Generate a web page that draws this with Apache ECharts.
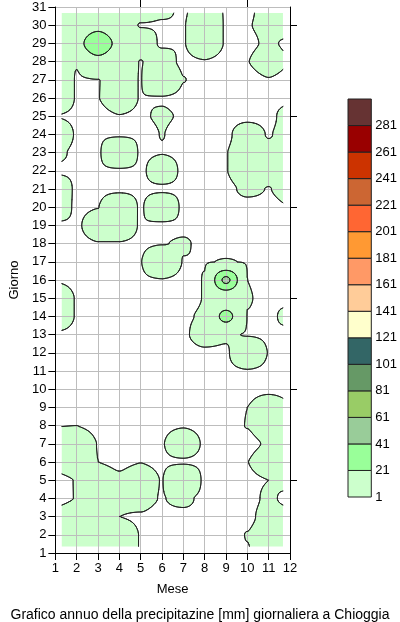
<!DOCTYPE html>
<html><head><meta charset="utf-8">
<script src="https://cdn.jsdelivr.net/npm/echarts@6/dist/echarts.min.js"></script>
<style>html,body{margin:0;padding:0;background:#fff}#c{width:400px;height:622px}</style>
</head><body><div id="c"></div>
<script>
// x axis: months, y axis: days
const months = [1,2,3,4,5,6,7,8,9,10,11,12];
const days = Array.from({length:31},(_,i)=>i+1);
// estimated daily precipitation [mm] per month, index = day-1
const pm01 = [3,3,2,0.3,0.4,2,3,0.98,0,0,0,0,0.5,6,6,0.7,0,0,0.3,6,9,0,2.4,8,0.9,10,10,4,5,5,5];
const pm02 = [3,3,3,1.05,1.05,3,3,1.0,0,0,0,0,0,0.8,0.8,0,0,0,0.5,0.2,0,0,0,0.55,0,0.7,0.7,1.2,14,5,5];
const pm03 = [3,3,3,3,3,1.0,0.97,0.6,0,0,0,0,0,0,0,0,0,0.9,4,0.95,0,0,0,0,0.6,0.98,0.97,14,40,14,5];
const pm04 = [2,2,1.0,1.5,1.4,0.6,0.3,0,0,0,0,0,0,0,0,0,0,0.9,4,8.8,0,0,20,0,0.97,2.2,2.2,3,14,3,5];
const pm05 = [0.97,0.97,0.85,1.8,3,0.98,0.3,0,0,0,0,0,0,0,0,0.6,0.95,0.5,0.8,0.5,0,0,0,0,0.78,0.95,0.95,0.95,3,0.9,3];
const pm06 = [0,0,0.3,0.9,0.915,0.5,0.85,0.3,0,0,0,0,0,0,0,0.9,8,0.9,0,9.6,0,6,0.85,1.05,1.27,0.8,8,2.5,0.7,0.85,1.5];
const pm07 = [0,0,0,2,13,0.5,5,0.8,0,0,0,0.3,0.75,0.8,0.2,0.2,0.9,1.3,0.3,0,0,0,0,0,0.78,0.3,1.05,0.5,0.9,0.9,0.7];
const pm08 = [0,0,0,0,0,0,0.5,0,0,0,0,0.7,2,1.2,1.05,1.05,0.95,0.3,0,0,0,0,0,0,0,0,0,0.9,4,4,3];
const pm09 = [0,0,0,0,0,0,0,0,0,0,0.5,0.7,1.3,27,4,45,1.05,0.5,0,0,0.5,0.95,0.95,0.5,0,0,0,0.3,0.85,0.85,0.85];
const pm10 = [0.9,1.05,0.5,0.3,0.5,0.98,0.35,1.05,1.0,0.3,0.9,5,0.9,0.95,1.1,1.0,0.95,0.3,0,0.3,1.5,3.5,3.5,3,0.3,0,0,0.95,0.5,0.9,0.6];
const pm11 = [3,3,2,1.4,1.0,3,1.3,3,3,0.5,0.6,0.95,0.7,0.3,0.5,0.3,0,0,0,0.5,0.95,2,2,0.85,0.3,0,0.9,3,1.4,1.65,2];
const pm12 = [0.3,2,2,0.3,2,2,2,2,1.2,0.3,0,0,0,2.2,0,0,0,0,0,1.0,2,2,2,2.5,2.5,0.3,0,1.0,0.5,3,3];
const precip = [pm01,pm02,pm03,pm04,pm05,pm06,pm07,pm08,pm09,pm10,pm11,pm12];
// contour levels and colours
const levels = [1,21,41,61,81,101,121,141,161,181,201,221,241,261,281];
const levelColors = ['#ccffcc','#99ff99','#99cc99','#99cc66','#669966','#336666','#ffffcc','#ffcc99','#ff9966','#ff9933','#ff6633','#cc6633','#cc3300','#990000','#663333'];
const rightTicks = [5,10,15,20,25,30];
const topTicks = [5,10];
const FONT = 'Liberation Sans, Arial, sans-serif';

const ContourPath = echarts.graphic.extendShape({
  shape: {polys: [], segs: []},
  buildPath: function (ctx, shape) {
    const polys = shape.polys || [];
    for (let k = 0; k < polys.length; k++) {
      const p = polys[k];
      ctx.moveTo(p[0], p[1]);
      for (let i = 2; i < p.length; i += 2) ctx.lineTo(p[i], p[i + 1]);
      ctx.closePath();
    }
    const s = shape.segs || [];
    for (let i = 0; i < s.length; i += 4) { ctx.moveTo(s[i], s[i + 1]); ctx.lineTo(s[i + 2], s[i + 3]); }
  }
});
echarts.graphic.registerShape('contourPath', ContourPath);

function wgt(t){ return 1 - 3*t*t + 2*t*t*t; }
function field(x, y){
  let i = Math.floor(x); if (i >= 12) i = 11; if (i < 1) i = 1;
  let j = Math.floor(y); if (j >= 31) j = 30; if (j < 1) j = 1;
  const fx = x - i, fy = y - j;
  const a = precip[i-1][j-1], b = precip[i][j-1], c = precip[i-1][j], d = precip[i][j];
  const wx = wgt(fx), wy = wgt(fy);
  return wy*(wx*a + (1-wx)*b) + (1-wy)*(wx*c + (1-wx)*d);
}

let cache = null;
function contours(api){
  if (cache) return cache;
  const X0 = 1.3, X1 = 11.67, Y0 = 1.36, Y1 = 30.67;
  const nx = Math.ceil((X1-X0)/0.04), ny = Math.ceil((Y1-Y0)/0.05);
  const px = [], py = [], V = [];
  for (let i = 0; i <= nx; i++) px.push(api.coord([X0 + (X1-X0)*i/nx, 1])[0]);
  for (let j = 0; j <= ny; j++) py.push(api.coord([1, Y0 + (Y1-Y0)*j/ny])[1]);
  let vmax = 0;
  for (let j = 0; j <= ny; j++) { const row = []; const y = Y0 + (Y1-Y0)*j/ny;
    for (let i = 0; i <= nx; i++) { const v = field(X0 + (X1-X0)*i/nx, y); row.push(v); if (v > vmax) vmax = v; }
    V.push(row); }
  const fills = [], segs = [];
  levels.forEach((L, k) => {
    if (vmax < L) return;
    const polys = [];
    for (let j = 0; j < ny; j++) {
      let runStart = -1;
      for (let i = 0; i < nx; i++) {
        const cx = [px[i], px[i+1], px[i+1], px[i]], cy = [py[j], py[j], py[j+1], py[j+1]];
        const cv = [V[j][i], V[j][i+1], V[j+1][i+1], V[j+1][i]];
        const ab = cv.map(v => v >= L);
        const nAb = ab.filter(Boolean).length;
        if (nAb === 4) { if (runStart < 0) runStart = i; continue; }
        if (runStart >= 0) { polys.push([px[runStart], py[j], px[i], py[j], px[i], py[j+1], px[runStart], py[j+1]]); runStart = -1; }
        if (nAb === 0) continue;
        const poly = [], cr = [];
        for (let q = 0; q < 4; q++) {
          const r = (q+1) % 4;
          if (ab[q]) poly.push(cx[q], cy[q]);
          if (ab[q] !== ab[r]) {
            const t = (L - cv[q]) / (cv[r] - cv[q]);
            const X = cx[q] + t*(cx[r]-cx[q]), Y = cy[q] + t*(cy[r]-cy[q]);
            poly.push(X, Y); cr[q] = [X, Y];
          }
        }
        polys.push(poly);
        const edges = cr.map((p, q) => p ? q : -1).filter(q => q >= 0);
        if (edges.length === 2) { segs.push(cr[edges[0]][0], cr[edges[0]][1], cr[edges[1]][0], cr[edges[1]][1]); }
        else if (edges.length === 4) {
          const center = (cv[0]+cv[1]+cv[2]+cv[3])/4 >= L;
          for (let q = 0; q < 4; q++) {
            if (ab[q] === center) continue;
            const e1 = (q + 3) % 4, e2 = q;
            segs.push(cr[e1][0], cr[e1][1], cr[e2][0], cr[e2][1]);
          }
        }
      }
      if (runStart >= 0) polys.push([px[runStart], py[j], px[nx], py[j], px[nx], py[j+1], px[runStart], py[j+1]]);
    }
    fills.push({color: levelColors[k], polys: polys});
  });
  cache = {fills, segs};
  return cache;
}

const chart = echarts.init(document.getElementById('c'), null, {renderer: 'canvas'});
const axisLabelStyle = {color: '#000', fontSize: 13, fontFamily: FONT};
chart.setOption({
  animation: false,
  backgroundColor: '#fff',
  title: {text: 'Grafico annuo della precipitazine [mm] giornaliera a Chioggia', left: 'center', top: 603,
    textStyle: {fontSize: 14, fontWeight: 'normal', color: '#000', fontFamily: FONT}},
  grid: [
    {left: 52, right: 110, top: 7, bottom: 69},
    {left: 348, right: 27, top: 99, bottom: 125}
  ],
  xAxis: [
    {gridIndex: 0, type: 'value', min: 1, max: 12, interval: 1, position: 'bottom', z: 3,
      axisLine: {lineStyle: {color: '#000', width: 1}}, axisTick: {length: 7, lineStyle: {color: '#000'}},
      axisLabel: Object.assign({margin: 9}, axisLabelStyle),
      splitLine: {show: true, lineStyle: {color: '#bdbdbd', width: 1}},
      name: 'Mese', nameLocation: 'middle', nameGap: 30, nameTextStyle: {color: '#000', fontSize: 13, fontFamily: FONT}},
    {gridIndex: 0, type: 'value', min: 1, max: 12, position: 'top', z: 3,
      axisLine: {show: false}, axisTick: {show: true, customValues: topTicks, length: 7, lineStyle: {color: '#000'}},
      axisLabel: {show: false}, splitLine: {show: false}},
    {gridIndex: 1, type: 'value', min: 0, max: 1, show: false}
  ],
  yAxis: [
    {gridIndex: 0, type: 'value', min: 1, max: 31, interval: 1, z: 3,
      axisLine: {show: true, lineStyle: {color: '#000', width: 1}}, axisTick: {show: true, length: 7, lineStyle: {color: '#000'}},
      axisLabel: Object.assign({margin: 9}, axisLabelStyle),
      splitLine: {show: true, lineStyle: {color: '#bdbdbd', width: 1}},
      name: 'Giorno', nameLocation: 'middle', nameGap: 30, nameRotate: 90,
      nameTextStyle: {color: '#000', fontSize: 13, fontFamily: FONT}},
    {gridIndex: 0, type: 'value', min: 1, max: 31, position: 'right', z: 3,
      axisLine: {show: true, lineStyle: {color: '#000', width: 1}},
      axisTick: {show: true, customValues: rightTicks, length: 7, lineStyle: {color: '#000'}},
      axisLabel: {show: false}, splitLine: {show: false}},
    {gridIndex: 1, type: 'value', min: 0, max: 15, interval: 1, position: 'right',
      axisLine: {show: false}, axisTick: {show: false}, splitLine: {show: false},
      axisLabel: Object.assign({margin: 4, formatter: v => (v < levels.length ? String(levels[v]) : '')}, axisLabelStyle)}
  ],
  series: [
    {type: 'custom', coordinateSystem: 'cartesian2d', xAxisIndex: 0, yAxisIndex: 0, z: 1, silent: true,
      data: [[1, 1]],
      renderItem: (params, api) => {
        const c = contours(api);
        return {type: 'group', children: c.fills.map(f => ({type: 'contourPath', shape: {polys: f.polys, segs: []},
          style: {fill: f.color, stroke: null}}))};
      }},
    {type: 'custom', coordinateSystem: 'cartesian2d', xAxisIndex: 0, yAxisIndex: 0, z: 10, silent: true,
      data: [[1, 1]],
      renderItem: (params, api) => {
        const c = contours(api);
        return {type: 'contourPath', shape: {polys: [], segs: c.segs},
          style: {fill: null, stroke: '#222', lineWidth: 1, lineCap: 'round', lineJoin: 'round'}};
      }},
    {type: 'custom', coordinateSystem: 'cartesian2d', xAxisIndex: 2, yAxisIndex: 2, silent: true,
      data: levels.map((l, i) => [0.5, i]),
      renderItem: (params, api) => {
        const i = api.value(1);
        const p0 = api.coord([0, i]), p1 = api.coord([1, i + 1]);
        return {type: 'rect', shape: {x: p0[0], y: p1[1], width: p1[0] - p0[0], height: p0[1] - p1[1]},
          style: {fill: levelColors[i], stroke: '#222', lineWidth: 1}};
      }}
  ]
});
</script></body></html>
